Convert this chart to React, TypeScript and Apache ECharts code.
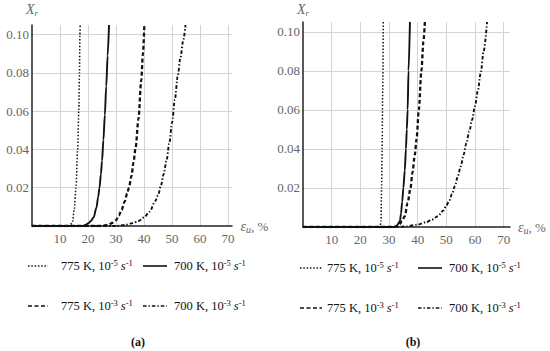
import React, { useEffect, useRef } from 'react';
import * as echarts from 'echarts';

// ---------- data ----------
const xTickValues = [10, 20, 30, 40, 50, 60, 70];
const yTickValues = [0.02, 0.04, 0.06, 0.08, 0.1];

const seriesNames = [
  '775 K, 10-5 s-1',
  '700 K, 10-5 s-1',
  '775 K, 10-3 s-1',
  '700 K, 10-3 s-1',
];
const legendLabels = [
  '775 K, 10{sup|-5} {it|s}{sup|-1}',
  '700 K, 10{sup|-5} {it|s}{sup|-1}',
  '775 K, 10{sup|-3} {it|s}{sup|-1}',
  '700 K, 10{sup|-3} {it|s}{sup|-1}',
];
const panelCaptions = ['(a)', '(b)'];

// panel (a)
const a775slow: number[][] = [
  [0, 0], [13.5, 0], [14.5, 0.0023], [15.1, 0.009], [15.7, 0.02], [16.3, 0.04],
  [16.7, 0.06], [16.95, 0.08], [17.1, 0.1], [17.2, 0.105],
];
const a700slow: number[][] = [
  [0, 0], [18, 0], [19, 0.0005], [20, 0.0013], [21, 0.0025], [22, 0.0045], [23, 0.0095],
  [23.6, 0.015], [24.1, 0.02], [24.6, 0.027], [25, 0.034], [25.5, 0.045], [26, 0.058],
  [26.5, 0.073], [27, 0.089], [27.5, 0.105],
];
const a775fast: number[][] = [
  [0, 0], [25, 0], [27, 0.0006], [29, 0.0018], [30, 0.003], [31, 0.0055], [32, 0.0084],
  [33, 0.0125], [34, 0.017], [34.6, 0.02], [35.5, 0.026], [36.2, 0.033], [37, 0.041],
  [38, 0.056], [39, 0.076], [39.6, 0.09], [40.1, 0.105],
];
const a700fast: number[][] = [
  [0, 0], [30, 0], [33, 0.0005], [36, 0.0015], [38, 0.0026], [40, 0.0045], [42, 0.0075],
  [44, 0.013], [45, 0.016], [46, 0.021], [47, 0.027], [48, 0.034], [49, 0.043], [50, 0.054],
  [51, 0.066], [52, 0.078], [53, 0.088], [54, 0.097], [54.8, 0.105],
];

// panel (b)
const b775slow: number[][] = [
  [0, 0], [26.9, 0], [27.2, 0.003], [27.4, 0.02], [27.6, 0.04], [27.8, 0.07], [28, 0.105],
];
const b700slow: number[][] = [
  [0, 0], [31.5, 0], [32.6, 0.0005], [33.8, 0.003], [34.2, 0.007], [34.6, 0.013], [35, 0.02],
  [35.5, 0.029], [35.9, 0.04], [36.2, 0.05], [36.5, 0.06], [36.8, 0.08], [37.3, 0.105],
];
const b775fast: number[][] = [
  [0, 0], [32, 0], [33.5, 0.001], [34.5, 0.003], [35.5, 0.0055], [36.5, 0.0124], [37.5, 0.02],
  [38.2, 0.028], [39, 0.037], [39.6, 0.045], [40.4, 0.06], [41.3, 0.08], [42, 0.095], [42.5, 0.105],
];
const b700fast: number[][] = [
  [0, 0], [33, 0], [36, 0.0003], [40, 0.0012], [43, 0.0025], [45, 0.0038], [47, 0.0055],
  [49, 0.0085], [50, 0.011], [51, 0.0135], [52, 0.017], [53, 0.021], [54, 0.026], [55, 0.031],
  [56, 0.037], [57, 0.043], [58, 0.049], [59, 0.055], [60, 0.062], [61, 0.07], [62, 0.079],
  [63, 0.09], [64.2, 0.105],
];

const panelData = [
  [a775slow, a700slow, a775fast, a700fast],
  [b775slow, b700slow, b775fast, b700fast],
];

// ---------- styles ----------
const SERIF = 'Liberation Serif';
const lineStyles = [
  { width: 1.5, type: [1.5, 1.8] as any, color: '#111' },
  { width: 1.9, type: 'solid' as any, color: '#111' },
  { width: 2.3, type: [4, 2.5] as any, color: '#111' },
  { width: 1.9, type: [3.5, 2, 1.4, 2] as any, color: '#111' },
];

const grids = [
  { left: 32, top: 25, width: 200, height: 201 },
  { left: 303, top: 22, width: 207, height: 205 },
];
const xMax = [71.4, 72.2];
const yMax = 0.105;
const yNameGap = [8, 5];

const legendRows = [
  // panel a
  { y: [266, 306], sample: [[28, 48], [143, 167]], text: [61, 174] },
  // panel b
  { y: [268, 308], sample: [[300, 322], [418, 442]], text: [327, 449] },
];
const captionPos = [[138, 342], [413, 342]];

export default function App() {
  const ref = useRef<HTMLDivElement>(null);

  useEffect(() => {
    document.body.style.margin = '0';
    const chart = echarts.init(ref.current!, null, { renderer: 'svg' });

    const xAxes: any[] = [];
    const yAxes: any[] = [];
    const series: any[] = [];
    const graphic: any[] = [];

    grids.forEach((g, p) => {
      xAxes.push({
        gridIndex: p,
        type: 'value',
        min: 0,
        max: xMax[p],
        interval: 10,
        name: '{i|ε}{sub|u}{n|, %}',
        nameLocation: 'end',
        nameGap: 8,
        nameTextStyle: {
          fontFamily: SERIF,
          fontSize: 13,
          color: '#666',
          rich: {
            i: { fontFamily: SERIF, fontSize: 14, color: '#666', fontStyle: 'italic' },
            sub: { fontFamily: SERIF, fontSize: 10, color: '#666', fontStyle: 'italic', verticalAlign: 'bottom', padding: [6, 0, 0, 0] },
            n: { fontFamily: SERIF, fontSize: 13, color: '#666' },
          },
        },
        axisLine: { show: true, onZero: true, lineStyle: { color: '#222', width: 1.5 } },
        axisTick: { show: false },
        axisLabel: {
          fontFamily: SERIF,
          fontSize: 13,
          color: '#666',
          margin: 6,
          showMinLabel: false,
          showMaxLabel: false,
          formatter: (v: number) => (xTickValues.includes(v) ? String(v) : ''),
        },
        splitLine: { show: true, showMinLine: false, showMaxLine: false, lineStyle: { color: '#d4d4d4', width: 1 } },
      });
      yAxes.push({
        gridIndex: p,
        type: 'value',
        min: 0,
        max: yMax,
        interval: 0.02,
        name: '{i|X}{sub|r}',
        nameLocation: 'end',
        nameGap: yNameGap[p],
        nameTextStyle: {
          fontFamily: SERIF,
          fontSize: 13,
          color: '#666',
          rich: {
            i: { fontFamily: SERIF, fontSize: 14, color: '#666', fontStyle: 'italic' },
            sub: { fontFamily: SERIF, fontSize: 9, color: '#666', fontStyle: 'italic', verticalAlign: 'bottom', padding: [6, 0, 0, 0] },
          },
        },
        axisLine: { show: true, lineStyle: { color: '#222', width: 1.5 } },
        axisTick: { show: false },
        axisLabel: {
          fontFamily: SERIF,
          fontSize: 13,
          color: '#666',
          margin: 3,
          showMinLabel: false,
          showMaxLabel: false,
          formatter: (v: number) =>
            yTickValues.some((t) => Math.abs(t - v) < 1e-9) ? v.toFixed(2) : '',
        },
        splitLine: { show: true, showMinLine: false, showMaxLine: false, lineStyle: { color: '#d4d4d4', width: 1 } },
      });

      panelData[p].forEach((d, s) => {
        series.push({
          type: 'line',
          name: seriesNames[s],
          xAxisIndex: p,
          yAxisIndex: p,
          data: d,
          showSymbol: false,
          symbol: 'none',
          smooth: 0.3,
          smoothMonotone: 'x',
          lineStyle: { ...lineStyles[s] },
          z: 3,
        });
      });

      // legend (drawn as graphic)
      const lr = legendRows[p];
      for (let r = 0; r < 2; r++) {
        for (let c = 0; c < 2; c++) {
          const s = r * 2 + c;
          const ls = lineStyles[s];
          graphic.push({
            type: 'line',
            shape: { x1: lr.sample[c][0], y1: lr.y[r], x2: lr.sample[c][1], y2: lr.y[r] },
            style: {
              stroke: '#111',
              lineWidth: Math.min(ls.width, 1.6),
              lineDash: Array.isArray(ls.type) ? ls.type : null,
            },
          });
          graphic.push({
            type: 'text',
            x: lr.text[c],
            y: lr.y[r],
            style: {
              text: legendLabels[s],
              fill: '#111',
              fontFamily: SERIF,
              fontSize: 12.5,
              verticalAlign: 'middle',
              align: 'left',
              rich: {
                sup: { fontFamily: SERIF, fontSize: 8.5, fill: '#111', verticalAlign: 'top', padding: [0, 0, 6, 0] },
                it: { fontFamily: SERIF, fontSize: 12.5, fill: '#111', fontStyle: 'italic' },
              },
            },
          });
        }
      }
      graphic.push({
        type: 'text',
        x: captionPos[p][0],
        y: captionPos[p][1],
        style: {
          text: panelCaptions[p],
          fill: '#111',
          fontFamily: SERIF,
          fontSize: 12,
          fontWeight: 'bold',
          align: 'center',
          verticalAlign: 'middle',
        },
      });
    });

    chart.setOption({
      animation: false,
      backgroundColor: '#fff',
      grid: grids,
      xAxis: xAxes,
      yAxis: yAxes,
      series,
      graphic,
    });

    return () => chart.dispose();
  }, []);

  return <div ref={ref} style={{ width: 550, height: 351 }} />;
}
